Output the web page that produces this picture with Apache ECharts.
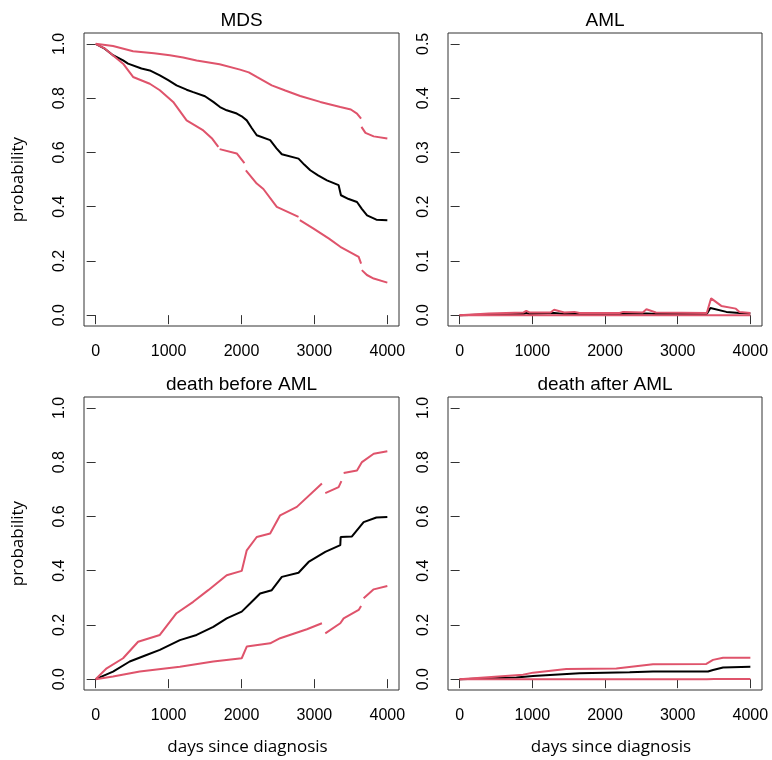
<!DOCTYPE html>
<html>
<head>
<meta charset="utf-8">
<script src="https://cdn.jsdelivr.net/npm/echarts@6/dist/echarts.min.js"></script>
<style>
html,body{margin:0;padding:0;background:#fff;}
#chart{width:772px;height:760px;}
</style>
</head>
<body>
<div id="chart"></div>
<script>
// ---- data (days, probability); null marks a break in the line ----
const panelTitles = ['MDS', 'AML', 'death before AML', 'death after AML'];
const xTicks = [0, 1000, 2000, 3000, 4000];
const yTicksFull = [0, 0.2, 0.4, 0.6, 0.8, 1.0];
const yTicksAML = [0, 0.1, 0.2, 0.3, 0.4, 0.5];

// MDS
const mdsEst = [[0,1.0],[124,0.982],[238,0.958],[376,0.939],[444,0.927],[628,0.909],[742,0.902],[880,0.884],[995,0.866],[1109,0.847],[1247,0.831],[1338,0.822],[1499,0.807],[1613,0.786],[1705,0.767],[1797,0.755],[1935,0.743],[2003,0.733],[2072,0.718],[2140,0.690],[2209,0.663],[2393,0.645],[2480,0.615],[2553,0.593],[2782,0.577],[2860,0.555],[2943,0.534],[3050,0.515],[3172,0.497],[3332,0.479],[3364,0.442],[3470,0.428],[3584,0.417],[3650,0.392],[3722,0.368],[3850,0.352],[4000,0.350]];
const mdsUpper = [[0,1.0],[238,0.992],[513,0.973],[800,0.965],[1017,0.958],[1200,0.950],[1384,0.939],[1700,0.925],[1980,0.905],[2100,0.895],[2209,0.878],[2415,0.847],[2600,0.828],[2805,0.808],[3080,0.786],[3355,0.767],[3500,0.758],[3584,0.743],[3640,0.724],[3642,null],[3645,0.694],[3700,0.672],[3813,0.659],[4000,0.651]];
const mdsLower = [[0,1.0],[128,0.982],[376,0.927],[513,0.878],[742,0.853],[880,0.829],[1063,0.786],[1247,0.718],[1476,0.681],[1600,0.650],[1682,0.620],[1690,null],[1700,0.612],[1935,0.596],[2040,0.560],[2049,null],[2060,0.534],[2209,0.485],[2300,0.465],[2484,0.399],[2782,0.362],[2790,null],[2800,0.350],[2988,0.319],[3200,0.282],[3355,0.252],[3607,0.215],[3640,0.190],[3645,null],[3650,0.166],[3720,0.148],[3813,0.135],[4000,0.120]];

// AML
const amlEst = [[0,0.0],[400,0.001],[880,0.002],[917,0.004],[960,0.002],[1300,0.004],[1440,0.002],[2200,0.002],[2570,0.003],[2700,0.002],[3400,0.002],[3450,0.013],[3670,0.006],[3850,0.004],[4000,0.003]];
const amlUpper = [[0,0.0],[400,0.003],[880,0.005],[917,0.008],[960,0.005],[1250,0.005],[1300,0.010],[1440,0.005],[1580,0.006],[1650,0.004],[2200,0.004],[2250,0.006],[2520,0.005],[2570,0.011],[2700,0.005],[3400,0.004],[3460,0.031],[3600,0.017],[3800,0.012],[3850,0.006],[4000,0.004]];
const amlLower = [[0,0.0],[1000,0.0],[2000,0.0],[3000,0.0],[4000,0.0]];

// death before AML
const dbEst = [[0,0.0],[238,0.028],[467,0.065],[697,0.089],[880,0.108],[1155,0.144],[1384,0.163],[1613,0.193],[1797,0.224],[2003,0.249],[2117,0.279],[2255,0.316],[2415,0.328],[2553,0.377],[2782,0.392],[2920,0.432],[3149,0.469],[3355,0.494],[3360,0.524],[3515,0.526],[3675,0.579],[3850,0.596],[4000,0.598]];
const dbUpper = [[0,0.0],[151,0.040],[376,0.077],[582,0.138],[880,0.163],[1109,0.243],[1338,0.285],[1544,0.328],[1797,0.383],[2003,0.399],[2072,0.475],[2209,0.524],[2393,0.537],[2530,0.604],[2759,0.635],[3103,0.721],[3120,null],[3149,0.686],[3332,0.708],[3370,0.730],[3385,null],[3401,0.760],[3584,0.769],[3652,0.800],[3813,0.831],[4000,0.840]];
const dbLower = [[0,0.0],[238,0.010],[605,0.028],[1155,0.046],[1613,0.065],[2003,0.077],[2072,0.120],[2393,0.132],[2530,0.151],[2897,0.184],[3103,0.206],[3120,null],[3149,0.169],[3355,0.206],[3401,0.224],[3607,0.255],[3640,0.270],[3655,null],[3675,0.298],[3813,0.331],[4000,0.343]];

// death after AML
const daEst = [[0,0.0],[780,0.006],[1010,0.012],[1651,0.022],[2339,0.025],[2660,0.028],[3417,0.028],[3486,0.034],[3624,0.043],[4000,0.046]];
const daUpper = [[0,0.0],[872,0.016],[1010,0.024],[1468,0.037],[2156,0.039],[2660,0.055],[3394,0.056],[3486,0.071],[3624,0.079],[4000,0.079]];
const daLower = [[0,0.0],[1000,0.0],[2000,0.0],[3400,0.0],[3500,0.001],[4000,0.001]];

// ---- layout ----
const RED = '#DF536B';
const grids = [
  {left:84, top:33, width:315, height:293},
  {left:448, top:33, width:314, height:293},
  {left:84, top:397, width:315, height:293},
  {left:448, top:397, width:314, height:293}
];
const yRanges = [[-0.04,1.04],[-0.02,0.52],[-0.04,1.04],[-0.04,1.04]];
const yTickSets = [yTicksFull, yTicksAML, yTicksFull, yTicksFull];
const curves = [
  [mdsEst, mdsUpper, mdsLower],
  [amlEst, amlUpper, amlLower],
  [dbEst, dbUpper, dbLower],
  [daEst, daUpper, daLower]
];

const tickStyle = {show:true, inside:false, length:9, lineStyle:{color:'#333', width:1}};
const labelFont = {fontFamily:'Liberation Sans, Arial, sans-serif', fontSize:16, color:'#000'};

function clean(arr){ return arr.map(p => [p[0], p[1] === null ? '-' : p[1]]); }

const option = {
  animation:false,
  backgroundColor:'#fff',
  grid: grids.map(g => Object.assign({show:true, borderColor:'#333', borderWidth:1, backgroundColor:'transparent', containLabel:false}, g)),
  xAxis: grids.map((g,i) => ({
    type:'value', gridIndex:i, min:-160, max:4160,
    axisLine:{show:false}, splitLine:{show:false},
    axisTick:Object.assign({customValues:xTicks}, tickStyle),
    axisLabel:Object.assign({customValues:xTicks, margin:18, formatter:v => String(Math.round(v))}, labelFont)
  })),
  yAxis: grids.map((g,i) => ({
    type:'value', gridIndex:i, min:yRanges[i][0], max:yRanges[i][1],
    axisLine:{show:false}, splitLine:{show:false},
    axisTick:Object.assign({customValues:yTickSets[i]}, tickStyle),
    axisLabel:Object.assign({customValues:yTickSets[i], rotate:90, margin:16, formatter:v => v.toFixed(1)}, labelFont)
  })),
  series: [],
  graphic: []
};

curves.forEach((set,i) => {
  set.forEach((c,k) => {
    option.series.push({
      type:'line', xAxisIndex:i, yAxisIndex:i, data:clean(c),
      showSymbol:false, symbol:'none', connectNulls:false, z: k===0 ? 2 : 3,
      lineStyle:{color: k===0 ? '#000' : RED, width:2},
      silent:true
    });
  });
});

const titleFont = '19px "Liberation Sans", Arial, sans-serif';
const axisNameFont = '17px "Open Sans", sans-serif';
grids.forEach((g,i) => {
  option.graphic.push({
    type:'text', x:g.left + g.width/2, y:g.top - 12,
    style:{text:panelTitles[i], font:titleFont, fill:'#000', align:'center', verticalAlign:'middle', textAlign:'center', textVerticalAlign:'middle'}
  });
});
[grids[0], grids[2]].forEach(g => {
  option.graphic.push({
    type:'text', x:18, y:g.top + g.height/2, rotation:Math.PI/2,
    style:{text:'probability', font:axisNameFont, fill:'#000', align:'center', verticalAlign:'middle', textAlign:'center', textVerticalAlign:'middle'}
  });
});
[grids[2], grids[3]].forEach(g => {
  option.graphic.push({
    type:'text', x:g.left + g.width/2 + 6, y:747,
    style:{text:'days since diagnosis', font:axisNameFont, fill:'#000', align:'center', verticalAlign:'middle', textAlign:'center', textVerticalAlign:'middle'}
  });
});

const chart = echarts.init(document.getElementById('chart'), null, {renderer:'canvas'});
chart.setOption(option);
</script>
</body>
</html>
